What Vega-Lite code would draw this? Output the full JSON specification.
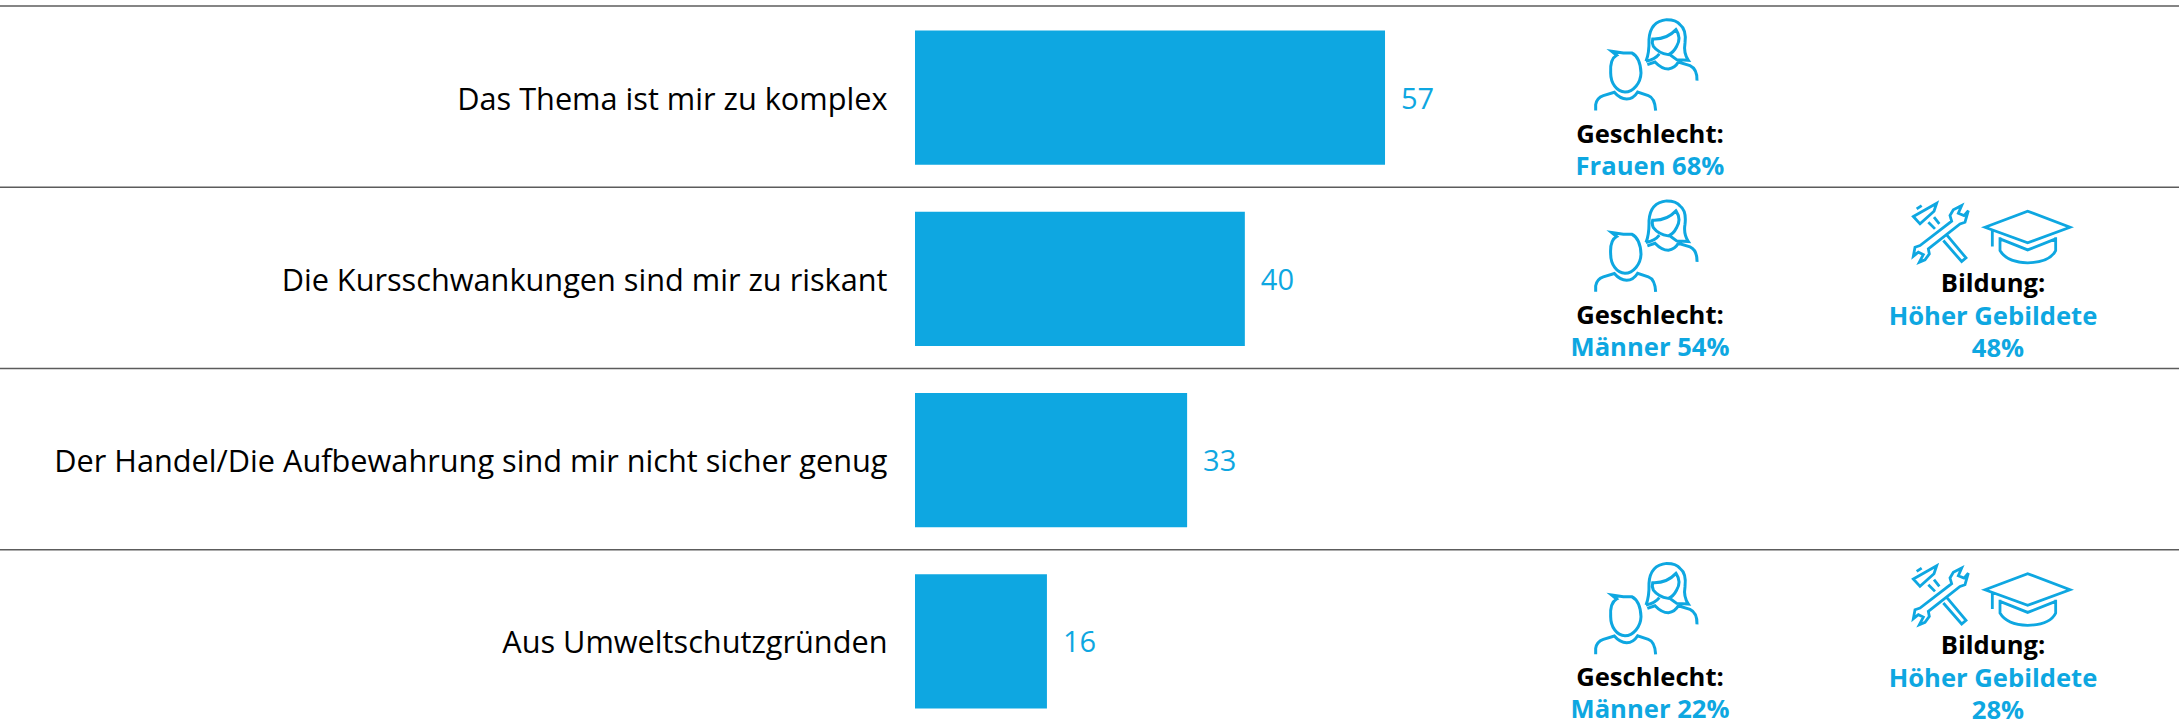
{
"$schema":"https://vega.github.io/schema/vega-lite/v6.json",
"width":2179,"height":727,"padding":0,"autosize":{"type":"none"},
"background":"white",
"config":{"view":{"stroke":null},"font":"Open Sans"},
"datasets":{
"answers":[
{"label":"Das Thema ist mir zu komplex","value":57},
{"label":"Die Kursschwankungen sind mir zu riskant","value":40},
{"label":"Der Handel/Die Aufbewahrung sind mir nicht sicher genug","value":33},
{"label":"Aus Umweltschutzgründen","value":16}],
"callouts":[
{"label":"Das Thema ist mir zu komplex","dimension":"Geschlecht","header":"Geschlecht:","result":"Frauen 68%"},
{"label":"Die Kursschwankungen sind mir zu riskant","dimension":"Geschlecht","header":"Geschlecht:","result":"Männer 54%"},
{"label":"Die Kursschwankungen sind mir zu riskant","dimension":"Bildung","header":"Bildung:","result":"Höher Gebildete","share":"48%"},
{"label":"Aus Umweltschutzgründen","dimension":"Geschlecht","header":"Geschlecht:","result":"Männer 22%"},
{"label":"Aus Umweltschutzgründen","dimension":"Bildung","header":"Bildung:","result":"Höher Gebildete","share":"28%"}]
},
"data":{"name":"answers"},
"encoding":{"y":{"field":"label","type":"nominal","sort":null,"title":null,
 "scale":{"domain":["Das Thema ist mir zu komplex","Die Kursschwankungen sind mir zu riskant","Der Handel/Die Aufbewahrung sind mir nicht sicher genug","Aus Umweltschutzgründen"],"range":[7,732],"paddingInner":0.26,"paddingOuter":0.13},
 "axis":{"offset":-915,"ticks":false,"domain":false,"grid":false,"labelPadding":28,"labelFontSize":30.7,"labelOffset":3,"labelColor":"#000000","labelFont":"Open Sans","labelLimit":1000,"title":null}}},
"resolve":{"scale":{"x":"independent"}},
"layer":[
{"mark":{"type":"rule","stroke":"#5c5c5c","strokeWidth":1.5},"encoding":{"y":{"field":"label","type":"nominal","bandPosition":-0.183}}},
{"mark":{"type":"bar","fill":"#0EA7E1"},"encoding":{"x":{"field":"value","type":"quantitative","scale":{"domain":[0,100],"range":[915,1739.6]},"axis":null}}},
{"mark":{"type":"text","align":"left","baseline":"middle","dx":16,"dy":2,"fontSize":29,"fill":"#0EA7E1","font":"Open Sans"},"encoding":{"x":{"field":"value","type":"quantitative","scale":{"domain":[0,100],"range":[915,1739.6]},"axis":null},"text":{"field":"value","type":"quantitative"}}},
{"data":{"name":"callouts"},"transform":[{"filter":"datum.dimension==='Geschlecht'"}],
 "encoding":{"x":{"field":"dimension","type":"nominal","scale":{"type":"point","domain":["Geschlecht","Bildung"],"range":[1650,1984],"padding":0},"axis":null}},
 "layer":[
 {"mark":{"type":"point","filled":false,"stroke":"#0EA7E1","strokeWidth":3,"opacity":1,"size":0.4444,"shape":"M-115 -139L-80 -134L-55 -134C-35 -124 -28 -99 -27 -74C-28 -44 -50 -17 -75 -17C-100 -17 -118 -44 -118 -74C-120 -104 -115 -119 -100 -127ZM-163 39L-163 21Q-160 1 -140 -6L-107 -16Q-90 4 -70 4Q-50 4 -37 -17L-5 -6Q15 1 17 39M-12 -109Q-2 -134 -3 -174Q0 -229 50 -234Q80 -234 90 -219Q110 -204 105 -164Q100 -134 115 -112L80 -114L57 -131M-12 -109Q15 -114 28 -131M8 -176Q50 -174 78 -204Q95 -179 80 -154Q70 -134 55 -129Q25 -134 10 -154Q5 -164 8 -176ZM-8 -99L15 -107Q35 -86 55 -86Q75 -89 85 -107L120 -96Q142 -86 141 -51"}},
 {"mark":{"type":"text","align":"center","baseline":"middle","dy":37,"fontSize":25.6,"fontWeight":"bold","fill":"#000000","font":"Open Sans"},"encoding":{"text":{"field":"header"}}},
 {"mark":{"type":"text","align":"center","baseline":"middle","dy":69,"fontSize":25.6,"fontWeight":"bold","fill":"#0EA7E1","font":"Open Sans"},"encoding":{"text":{"field":"result"}}}
 ]},
{"data":{"name":"callouts"},"transform":[{"filter":"datum.dimension==='Bildung'"}],
 "encoding":{"x":{"field":"dimension","type":"nominal","scale":{"type":"point","domain":["Geschlecht","Bildung"],"range":[1650,1984],"padding":0},"axis":null}},
 "layer":[
 {"mark":{"type":"point","filled":false,"stroke":"#0EA7E1","strokeWidth":2.8,"opacity":1,"size":0.4444,"shape":"M3 -155L131 -203L258 -155L131 -108ZM25 -145L25 -97M48 -125L48 -85Q68 -50 131 -48Q198 -50 215 -85L215 -125M48 -120L131 -87L215 -120M-212 -187L-142 -227L-150 -203L-192 -165ZM-202 -210L-187 -220M-150 -185L-134 -165M-167 -170L-147 -150M-110 -130L-54 -63L-67 -52L-122 -115M-67 -220L-92 -207L-102 -190L-97 -173L-192 -100L-207 -95L-212 -68L-197 -80L-182 -73L-194 -50L-177 -57L-164 -75L-167 -90L-72 -165L-57 -170L-47 -205L-60 -190L-77 -197Z"}},
 {"mark":{"type":"text","align":"center","baseline":"middle","dx":9,"dy":5,"fontSize":25.6,"fontWeight":"bold","fill":"#000000","font":"Open Sans"},"encoding":{"text":{"field":"header"}}},
 {"mark":{"type":"text","align":"center","baseline":"middle","dx":9,"dy":38,"fontSize":25.6,"fontWeight":"bold","fill":"#0EA7E1","font":"Open Sans"},"encoding":{"text":{"field":"result"}}},
 {"mark":{"type":"text","align":"center","baseline":"middle","dx":14,"dy":70,"fontSize":25.6,"fontWeight":"bold","fill":"#0EA7E1","font":"Open Sans"},"encoding":{"text":{"field":"share"}}}
 ]}
]}
